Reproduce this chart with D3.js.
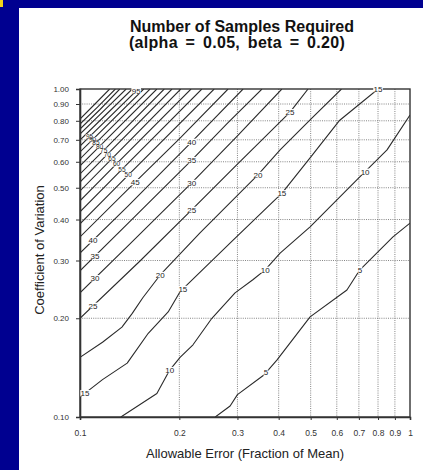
<!DOCTYPE html>
<html>
<head>
<meta charset="utf-8">
<script src="https://cdn.jsdelivr.net/npm/d3@7"></script>
<style>
  body { margin: 0; background: #fff; }
  svg { display: block; font-family: "Liberation Sans", Arial, sans-serif; }
</style>
</head>
<body>
<div id="chart"></div>
<script>
// axis ticks
var xTicks = [0.1, 0.2, 0.3, 0.4, 0.5, 0.6, 0.7, 0.8, 0.9, 1];
var xTickLabels = ["0.1", "0.2", "0.3", "0.4", "0.5", "0.6", "0.7", "0.8", "0.9", "1"];
var yTicks = [0.1, 0.2, 0.3, 0.4, 0.5, 0.6, 0.7, 0.8, 0.9, 1.0];
var yTickLabels = ["0.10", "0.20", "0.30", "0.40", "0.50", "0.60", "0.70", "0.80", "0.90", "1.00"];

// contour lines, [allowable error, coefficient of variation]
var c5 = [[0.257,0.1],[0.285,0.108],[0.30,0.117],[0.36,0.134],[0.395,0.149],[0.498,0.202],[0.644,0.244],[0.705,0.281],[0.888,0.354],[1.0,0.39]];
var c10 = [[0.133,0.1],[0.171,0.118],[0.187,0.139],[0.201,0.152],[0.22,0.166],[0.251,0.2],[0.295,0.239],[0.334,0.262],[0.364,0.281],[0.404,0.316],[0.498,0.38],[0.69,0.528],[0.852,0.652],[1.0,0.833]];
var c15 = [[0.1,0.115],[0.117,0.13],[0.139,0.146],[0.161,0.18],[0.185,0.209],[0.201,0.241],[0.29,0.345],[0.41,0.482],[0.5,0.62],[0.61,0.8],[0.8,1.0]];
var c20 = [[0.1,0.152],[0.117,0.169],[0.134,0.188],[0.144,0.207],[0.155,0.231],[0.175,0.271],[0.231,0.364],[0.346,0.547],[0.404,0.652],[0.498,0.805],[0.62,1.0]];
var c25 = [[0.1,0.2],[0.152,0.299],[0.218,0.428],[0.30,0.59],[0.433,0.85],[0.491,1.0]];
var c30 = [[0.1,0.239],[0.14,0.333],[0.218,0.517],[0.30,0.72],[0.409,1.0]];
var c35 = [[0.1,0.279],[0.14,0.39],[0.218,0.607],[0.28,0.787],[0.356,1.0]];
var c40 = [[0.1,0.316],[0.14,0.44],[0.218,0.69],[0.312,1.0]];
var c45 = [[0.1,0.354],[0.147,0.52],[0.2,0.705],[0.281,1.0]];
var c50 = [[0.1,0.388],[0.14,0.546],[0.255,1.0]];
var c55 = [[0.1,0.422],[0.134,0.569],[0.234,1.0]];
var c60 = [[0.1,0.456],[0.129,0.591],[0.217,1.0]];
var c65 = [[0.1,0.489],[0.125,0.613],[0.202,1.0]];
var c70 = [[0.1,0.52],[0.121,0.632],[0.19,1.0]];
var c75 = [[0.1,0.551],[0.118,0.65],[0.18,1.0]];
var c80 = [[0.1,0.583],[0.1146,0.668],[0.171,1.0]];
var c85 = [[0.1,0.612],[0.1118,0.685],[0.163,1.0]];
var c90 = [[0.1,0.643],[0.1092,0.701],[0.156,1.0]];
var c95 = [[0.1,0.67],[0.1069,0.716],[0.15,1.0]];
var c100 = [[0.1,0.699],[0.12,0.836],[0.144,1.0]];
var c105 = [[0.1,0.729],[0.1174,0.853],[0.138,1.0]];
var c110 = [[0.1,0.755],[0.115,0.866],[0.132,1.0]];
var c115 = [[0.1,0.782],[0.113,0.881],[0.128,1.0]];
var c120 = [[0.1,0.81],[0.111,0.90],[0.123,1.0]];

var levels = [5,10,15,20,25,30,35,40,45,50,55,60,65,70,75,80,85,90,95,100,105,110,115,120];
var contourPts = [c5,c10,c15,c20,c25,c30,c35,c40,c45,c50,c55,c60,c65,c70,c75,c80,c85,c90,c95,c100,c105,c110,c115,c120];

// in-line labels: which contour, and at what allowable error
var labelLevels = [5,5,10,10,10,15,15,15,15,20,20,25,25,25,30,30,35,35,40,40,45,50,55,60,65,70,75,80,85,90,95,95];
var labelErrors = [0.366,0.705,0.187,0.364,0.731,0.1036,0.205,0.409,0.80,0.175,0.346,0.1095,0.218,0.433,0.111,0.218,0.111,0.218,0.1095,0.218,0.147,0.140,0.134,0.129,0.125,0.121,0.118,0.1146,0.1118,0.1092,0.1069,0.148];

var width = 423, height = 470;
var margin = { top: 89, right: 13, bottom: 53, left: 80 };

var svg = d3.select("#chart").append("svg")
    .attr("width", width)
    .attr("height", height);

// slide background
svg.append("rect").attr("width", width).attr("height", height).attr("fill", "#000090");
svg.append("rect").attr("x", 19).attr("y", 8).attr("width", width - 19).attr("height", height - 8).attr("fill", "#fff");
svg.append("rect").attr("x", 0).attr("y", 0).attr("width", 3).attr("height", 7).attr("fill", "#f2d21b");

var x = d3.scaleLog().domain([0.1, 1]).range([margin.left, width - margin.right]);
var y = d3.scaleLog().domain([0.1, 1]).range([height - margin.bottom, margin.top]);

// title
svg.append("text")
    .attr("x", 242).attr("y", 32)
    .attr("text-anchor", "middle")
    .style("font-size", "16px").style("font-weight", "bold").attr("fill", "#111")
    .text("Number of Samples Required");
svg.append("text")
    .attr("x", 237).attr("y", 48)
    .attr("text-anchor", "middle")
    .style("font-size", "16px").style("font-weight", "bold").attr("fill", "#111")
    .style("word-spacing", "3px").style("letter-spacing", "0.3px")
    .text("(alpha = 0.05, beta = 0.20)");

// grid
var grid = svg.append("g")
    .attr("stroke", "#666")
    .attr("stroke-width", 0.8)
    .attr("stroke-dasharray", "1,1.2");
grid.selectAll(".vg")
  .data(xTicks.slice(1, -1))
  .join("line")
    .attr("x1", d => x(d)).attr("x2", d => x(d))
    .attr("y1", y(1)).attr("y2", y(0.1));
grid.selectAll(".hg")
  .data(yTicks.slice(1, -1))
  .join("line")
    .attr("x1", x(0.1)).attr("x2", x(1))
    .attr("y1", d => y(d)).attr("y2", d => y(d));

// clip contours to the plot box
svg.append("clipPath").attr("id", "plotclip")
  .append("rect")
    .attr("x", x(0.1)).attr("y", y(1))
    .attr("width", x(1) - x(0.1)).attr("height", y(0.1) - y(1));

var line = d3.line()
    .x(d => x(d[0]))
    .y(d => y(d[1]));

svg.append("g")
    .attr("clip-path", "url(#plotclip)")
    .attr("fill", "none")
    .attr("stroke", "#2a2a2a")
    .attr("stroke-width", 1.1)
    .attr("stroke-linejoin", "round")
  .selectAll("path")
  .data(contourPts)
  .join("path")
    .attr("d", line);

// frame
svg.append("rect")
    .attr("x", x(0.1)).attr("y", y(1))
    .attr("width", x(1) - x(0.1)).attr("height", y(0.1) - y(1))
    .attr("fill", "none").attr("stroke", "#333").attr("stroke-width", 1.4);

// axes
svg.append("g")
    .attr("transform", `translate(0,${y(0.1)})`)
    .call(d3.axisBottom(x).tickValues(xTicks).tickFormat((d, i) => xTickLabels[i]).tickSize(3).tickPadding(10))
    .call(g => g.select(".domain").attr("stroke", "#333").attr("stroke-width", 1.6))
    .call(g => g.selectAll(".tick line").attr("stroke", "#333"))
    .call(g => g.selectAll(".tick text").attr("fill", "#333").style("font-size", "8.5px").style("font-family", "Liberation Sans, Arial, sans-serif"));

svg.append("g")
    .attr("transform", `translate(${x(0.1)},0)`)
    .call(d3.axisLeft(y).tickValues(yTicks).tickFormat((d, i) => yTickLabels[i]).tickSize(4).tickPadding(7))
    .call(g => g.select(".domain").attr("stroke", "#333").attr("stroke-width", 1.6))
    .call(g => g.selectAll(".tick line").attr("stroke", "#333"))
    .call(g => g.selectAll(".tick text").attr("fill", "#333").style("font-size", "8px").style("font-family", "Liberation Sans, Arial, sans-serif"));

// axis titles
svg.append("text")
    .attr("x", 245).attr("y", 458)
    .attr("text-anchor", "middle")
    .style("font-size", "13px").attr("fill", "#222")
    .text("Allowable Error (Fraction of Mean)");
svg.append("text")
    .attr("transform", "translate(44,250) rotate(-90)")
    .attr("text-anchor", "middle")
    .style("font-size", "13px").attr("fill", "#222")
    .text("Coefficient of Variation");

// find the y pixel of a contour at a given error
function yOnContour(pts, e) {
  var px = pts.map(d => [x(d[0]), y(d[1])]);
  var xe = x(e);
  for (var i = 0; i < px.length - 1; i++) {
    if (xe >= px[i][0] && xe <= px[i + 1][0]) {
      var t = (xe - px[i][0]) / (px[i + 1][0] - px[i][0]);
      return px[i][1] + t * (px[i + 1][1] - px[i][1]);
    }
  }
  return px[px.length - 1][1];
}

var labels = labelLevels.map((lv, i) => {
  // the crowded diagonal run of labels near the upper-left is set smaller
  var crowded = lv >= 50 && labelErrors[i] < 0.145;
  return {
    text: String(lv),
    size: crowded ? 6.5 : 8,
    x: x(labelErrors[i]),
    y: yOnContour(contourPts[levels.indexOf(lv)], labelErrors[i])
  };
});

// white knock-out behind each label, then the label itself
var lab = svg.append("g")
    .attr("opacity", 0.99)
    .attr("text-anchor", "middle");
lab.selectAll("rect")
  .data(labels)
  .join("rect")
    .attr("x", d => d.x - d.text.length * d.size * 0.3)
    .attr("y", d => d.y - d.size * 0.4)
    .attr("width", d => d.text.length * d.size * 0.6)
    .attr("height", d => d.size * 0.8)
    .attr("fill", "#fff");
lab.selectAll("text")
  .data(labels)
  .join("text")
    .attr("x", d => d.x).attr("y", d => d.y)
    .attr("dy", "0.35em")
    .style("font-size", d => d.size + "px")
    .attr("fill", "#1a1a1a")
    .text(d => d.text);
</script>
</body>
</html>
